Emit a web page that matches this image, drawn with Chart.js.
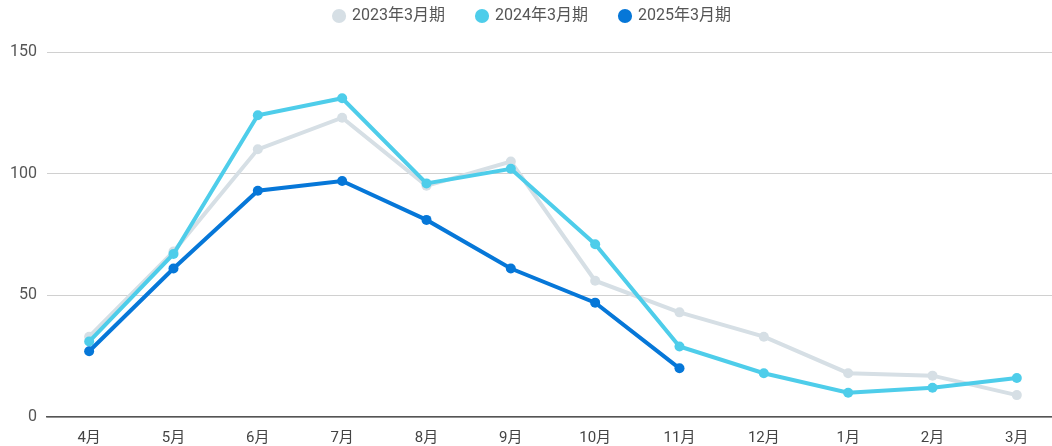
<!DOCTYPE html>
<html lang="ja">
<head>
<meta charset="UTF-8">
<title>月別推移</title>
<script src="https://cdn.jsdelivr.net/npm/chart.js@4.4.1/dist/chart.umd.min.js"></script>
<style>
    html, body { margin: 0; padding: 0; background: #fff; overflow: hidden; }
    .chart-wrap { position: relative; width: 1065px; height: 459px; }
</style>
</head>
<body>
<div class="chart-wrap">
    <canvas id="monthlyChart"></canvas>
</div>
<script>
// Chart data
const months = ['4月', '5月', '6月', '7月', '8月', '9月', '10月', '11月', '12月', '1月', '2月', '3月'];
const seriesNames = ['2023年3月期', '2024年3月期', '2025年3月期'];
const values2023 = [33, 68, 110, 123, 95, 105, 56, 43, 33, 18, 17, 9];
const values2024 = [31, 67, 124, 131, 96, 102, 71, 29, 18, 10, 12, 16];
const values2025 = [27, 61, 93, 97, 81, 61, 47, 20];
const yTicks = [0, 50, 100, 150];

const fontFamily = "Roboto, 'Noto Sans CJK JP', sans-serif";
const legendPadding = 32;
const legendFont = 16;

function makeDataset(label, data, color, order) {
    return {
        label: label,
        data: data,
        borderColor: color,
        backgroundColor: color,
        borderWidth: 4,
        pointRadius: 5,
        pointHoverRadius: 6,
        pointBackgroundColor: color,
        pointBorderWidth: 0,
        tension: 0,
        order: order
    };
}

/**
 * Legend placement: wide item spacing, items near the top,
 * plot area starting a bit lower
 */
const legendPlacement = {
    id: 'legendPlacement',
    beforeInit(chart) {
        const fitOrig = chart.legend.fit;
        chart.legend.fit = function () {
            fitOrig.call(this);
            this.height = 52;
        };
    },
    afterLayout(chart) {
        const lg = chart.legend;
        const shift = 16 - (legendPadding + legendFont / 2);
        lg.top += shift;
        lg.bottom += shift;
    }
};

document.addEventListener('DOMContentLoaded', function () {
    const ctx = document.getElementById('monthlyChart');

    new Chart(ctx, {
        type: 'line',
        data: {
            labels: months,
            datasets: [
                makeDataset(seriesNames[0], values2023, '#d6dfe5', 3),
                makeDataset(seriesNames[1], values2024, '#4ecdea', 2),
                makeDataset(seriesNames[2], values2025, '#0677d8', 1)
            ]
        },
        plugins: [legendPlacement],
        options: {
            responsive: true,
            maintainAspectRatio: false,
            animation: false,
            layout: {
                padding: 0
            },
            plugins: {
                legend: {
                    display: true,
                    position: 'top',
                    labels: {
                        color: '#555',
                        font: { size: legendFont, family: fontFamily },
                        usePointStyle: true,
                        pointStyle: 'circle',
                        boxWidth: 10,
                        boxHeight: 10,
                        padding: legendPadding,
                        sort: function (a, b) { return a.datasetIndex - b.datasetIndex; }
                    }
                },
                tooltip: { enabled: false }
            },
            scales: {
                x: {
                    offset: true,
                    grid: { display: false, drawTicks: false },
                    border: { display: true, color: '#555', width: 1.5 },
                    ticks: {
                        color: '#444',
                        padding: 12,
                        font: { size: 15, family: fontFamily },
                        maxRotation: 0,
                        autoSkip: false
                    }
                },
                y: {
                    min: 0,
                    max: 150,
                    afterBuildTicks: function (axis) {
                        axis.ticks = yTicks.map(v => ({ value: v }));
                    },
                    grid: { color: '#d0d0d0', drawTicks: false, lineWidth: 1 },
                    border: { display: false },
                    ticks: {
                        color: '#555',
                        padding: 10,
                        font: { size: 16, family: fontFamily }
                    }
                }
            }
        }
    });
});
</script>
</body>
</html>
